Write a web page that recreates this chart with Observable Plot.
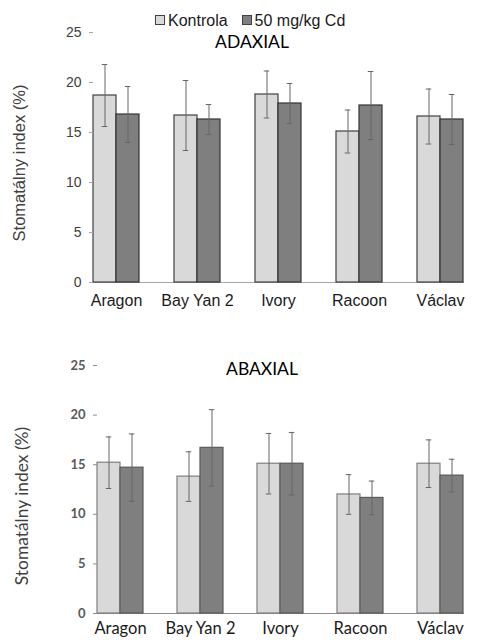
<!DOCTYPE html>
<html>
<head>
<meta charset="utf-8">
<script src="https://cdn.jsdelivr.net/npm/d3@7"></script>
<script src="https://cdn.jsdelivr.net/npm/@observablehq/plot@0.6"></script>
<style>
  html, body { margin: 0; padding: 0; background: #fff; }
  #wrap { position: relative; width: 483px; height: 640px; overflow: hidden; background: #fff; }
  .chart { position: absolute; left: 0; }
  .chart svg { background: transparent !important; }
  .ov { position: absolute; white-space: nowrap; z-index: 5; }
  .legend { left: 155px; top: 12.5px; display: flex; align-items: flex-start; font: 16px/16px "Liberation Sans", Arial, sans-serif; color: #1a1a1a; }
  .sw { width: 8px; height: 8px; border: 1px solid #404040; margin-top: 2.5px; margin-right: 3px; }
  .title { font: 17.5px/17px Lato, sans-serif; color: #000; transform: translateX(-50%); }
  .ytitle { transform: translate(-50%, -50%) rotate(-90deg); color: #404040; }
</style>
</head>
<body>
<div id="wrap">
  <div id="c1" class="chart" style="top:0"></div>
  <div id="c2" class="chart" style="top:320px"></div>
  <div class="ov legend">
    <div class="sw" style="background:#d9d9d9"></div><div style="margin-right:14px">Kontrola</div>
    <div class="sw" style="background:#7f7f7f"></div><div>50 mg/kg Cd</div>
  </div>
  <div class="ov title" style="left:252px; top:33px">ADAXIAL</div>
  <div class="ov title" style="left:262px; top:360px">ABAXIAL</div>
  <div class="ov ytitle" style="left:19px; top:163px; font:16.5px 'Liberation Sans', Arial, sans-serif">Stomatálny index (%)</div>
  <div class="ov ytitle" style="left:21px; top:506px; font:17.4px Lato, sans-serif">Stomatálny index (%)</div>
</div>
<script>
const varieties = ["Aragon", "Bay Yan 2", "Ivory", "Racoon", "Václav"];
const treatments = ["Kontrola", "50 mg/kg Cd"];
const yTicks = [0, 5, 10, 15, 20, 25];

// ADAXIAL
const adaxKontrola = [18.7, 16.7, 18.8, 15.1, 16.6];
const adaxKontrolaErr = [3.1, 3.5, 2.35, 2.15, 2.75];
const adaxCd = [16.8, 16.3, 17.9, 17.7, 16.3];
const adaxCdErr = [2.8, 1.5, 2.0, 3.4, 2.5];

// ABAXIAL
const abaxKontrola = [15.2, 13.8, 15.1, 12.0, 15.1];
const abaxKontrolaErr = [2.6, 2.5, 3.05, 2.0, 2.4];
const abaxCd = [14.7, 16.7, 15.1, 11.65, 13.9];
const abaxCdErr = [3.4, 3.85, 3.15, 1.7, 1.65];

function rows(k, ke, c, ce) {
  const out = [];
  varieties.forEach((v, i) => {
    out.push({variety: v, treatment: treatments[0], value: k[i], err: ke[i]});
    out.push({variety: v, treatment: treatments[1], value: c[i], err: ce[i]});
  });
  return out;
}

function chart(data, o) {
  return Plot.plot({
    width: 483,
    height: 320,
    marginLeft: o.ml,
    marginRight: 0,
    marginTop: o.mt,
    marginBottom: o.mb,
    style: {background: "transparent", overflow: "visible"},
    fx: {domain: varieties, paddingInner: o.pi, paddingOuter: 0.22, axis: null, label: null},
    x: {domain: treatments, padding: 0, axis: null},
    y: {domain: [0, 25], axis: null},
    color: {domain: treatments, range: ["#d9d9d9", "#7f7f7f"]},
    marks: [
      Plot.frame({anchor: "bottom", facet: "super", stroke: o.axisColor, strokeWidth: 1}),
      Plot.barY(data, {fx: "variety", x: "treatment", y: "value", fill: "treatment",
        stroke: d => d.treatment === treatments[0] ? o.s1 : o.s2, strokeWidth: 1.2, inset: 0}),
      Plot.ruleX(data, {fx: "variety", x: "treatment", y1: d => d.value - d.err, y2: d => d.value + d.err,
        stroke: "#666666", strokeWidth: 1}),
      Plot.tickY(data, {fx: "variety", x: "treatment", y: d => d.value + d.err, stroke: "#666666", insetLeft: 8.75, insetRight: 8.75}),
      Plot.tickY(data, {fx: "variety", x: "treatment", y: d => d.value - d.err, stroke: "#666666", insetLeft: 8.75, insetRight: 8.75}),
      Plot.axisY({ticks: yTicks, tickSize: 4, tickPadding: 8, line: true, label: null, stroke: o.axisColor,
        fill: o.tickColor, fontSize: o.tfs, fontFamily: o.tff, fontWeight: o.tfw}),
      Plot.axisFx({anchor: "bottom", tickSize: 0, tickPadding: o.ctp, label: null, fill: "#1a1a1a",
        fontSize: o.cfs, fontFamily: o.cff})
    ]
  });
}

document.getElementById("c1").append(chart(rows(adaxKontrola, adaxKontrolaErr, adaxCd, adaxCdErr), {
  ml: 74, mt: 32, mb: 38, pi: 0.427, s1: "#404040", s2: "#333333", axisColor: "#a6a6a6",
  tickColor: "#404040", tfs: 14, tff: "'Liberation Sans', Arial, sans-serif", tfw: "normal",
  cfs: 16, cff: "'Liberation Sans', Arial, sans-serif", ctp: 12
}));
document.getElementById("c2").append(chart(rows(abaxKontrola, abaxKontrolaErr, abaxCd, abaxCdErr), {
  ml: 77, mt: 45, mb: 27, pi: 0.419, s1: "#7f7f7f", s2: "#595959", axisColor: "#8c8c8c",
  tickColor: "#595959", tfs: 13, tff: "Lato, sans-serif", tfw: "bold",
  cfs: 16.5, cff: "Lato, sans-serif", ctp: 9
}));
</script>
</body>
</html>
